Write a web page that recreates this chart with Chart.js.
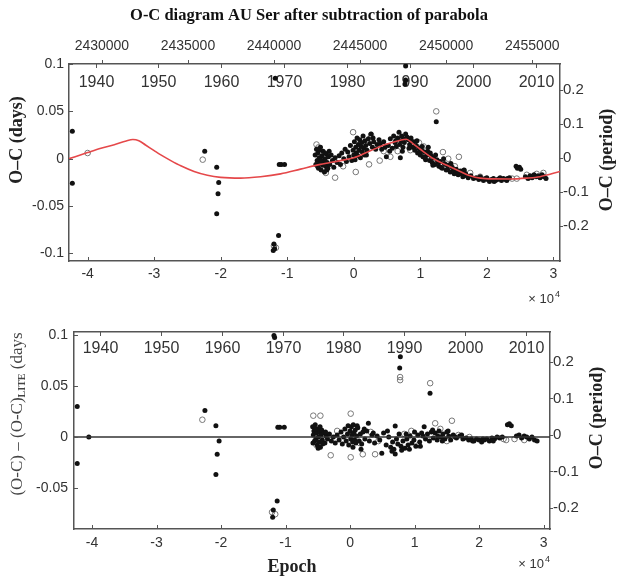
<!DOCTYPE html>
<html>
<head>
<meta charset="utf-8">
<script src="https://cdn.jsdelivr.net/npm/chart.js@4.4.1/dist/chart.umd.min.js"></script>
<style>
    html, body { margin: 0; padding: 0; background: #fff; }
    #wrap { position: relative; width: 618px; height: 578px; overflow: hidden; }
    canvas { position: absolute; left: 0; }
    #topChart { top: 0; }
    #bottomChart { top: 300px; }
</style>
</head>
<body>
<div id="wrap">
    <canvas id="topChart" width="618" height="310"></canvas>
    <canvas id="bottomChart" width="618" height="278"></canvas>
</div>
<script>
// Axis ranges and tick values
const epochRange = [-42800, 31000];
const epochTicks = [-40000, -30000, -20000, -10000, 0, 10000, 20000, 30000];
const jdTicks = [2430000, 2435000, 2440000, 2445000, 2450000, 2455000];
const yearTicks = [1940, 1950, 1960, 1970, 1980, 1990, 2000, 2010];
const topDaysRange = [-0.108, 0.1];
const topDaysTicks = [-0.1, -0.05, 0, 0.05, 0.1];
const topPeriodRange = [-0.302, 0.277];
const bottomDaysRange = [-0.0906, 0.1034];
const bottomDaysTicks = [-0.05, 0, 0.05, 0.1];
const bottomPeriodRange = [-0.2575, 0.282];
const periodTicks = [-0.2, -0.1, 0, 0.1, 0.2];

// ephemeris used for the JD / year axes
const T0 = 2444633;
const P = 0.38652;

// LITE fit (red curve), [epoch, days]
const topLite = [
    [-42800, 0.000], [-40000, 0.0065], [-38000, 0.011], [-36000, 0.0148], [-34200, 0.0188],
    [-33200, 0.0203], [-32300, 0.019], [-31300, 0.0145], [-30000, 0.0085], [-29000, 0.004],
    [-27500, -0.002], [-26000, -0.0075], [-24000, -0.0135], [-22000, -0.0175], [-20000, -0.0197],
    [-17000, -0.0205], [-14000, -0.019], [-11000, -0.016], [-8000, -0.011], [-5000, -0.006],
    [-2000, -0.002], [0, 0.001], [2500, 0.0085], [5000, 0.0155], [7000, 0.0195],
    [7900, 0.0205], [8800, 0.0165], [10000, 0.010], [12000, 0.000], [14000, -0.007],
    [16000, -0.0135], [17500, -0.018], [19000, -0.0205], [21000, -0.0213], [23500, -0.0214],
    [26000, -0.0205], [28000, -0.019], [31000, -0.0135]
];

// O-C after parabola, filled dots (primary minima)
const topDots = [
    [-42300, 0.029], [-42300, -0.026], [-22400, 0.008], [-20600, -0.009], [-20300, -0.025],
    [-20400, -0.037], [-20600, -0.058], [-11200, -0.006], [-10900, -0.006], [-10400, -0.006],
    [-11300, -0.081], [-12000, -0.090], [-11900, -0.095], [-12100, -0.097], [-11800, 0.085],
    [7800, 0.098], [7800, 0.083], [7700, 0.079], [12400, 0.039],
    [-5800, 0.004], [-5700, -0.006], [-5600, 0.010], [-5500, -0.002], [-5400, 0.006],
    [-5300, -0.010], [-5200, 0.001], [-5100, -0.005], [-5000, 0.012], [-4900, -0.012],
    [-4800, 0.003], [-4700, -0.007], [-4600, 0.008], [-4500, -0.003], [-4400, -0.014],
    [-4300, 0.000], [-4200, -0.008], [-4100, 0.005], [-4000, -0.004], [-3900, -0.010],
    [-3800, 0.002], [-3600, -0.006], [-3400, 0.004], [-3200, -0.002], [-3000, -0.009],
    [-2800, 0.001], [-2500, -0.004], [-2200, 0.003], [-2000, -0.006], [-1800, 0.006],
    [-1500, 0.000], [-1300, 0.010], [-1100, -0.003], [-900, 0.007], [-700, 0.002],
    [-500, 0.014], [-300, -0.002], [-100, 0.009], [0, 0.004], [100, 0.018],
    [200, -0.001], [300, 0.012], [400, 0.006], [500, 0.022], [600, 0.003],
    [700, 0.015], [800, 0.009], [900, 0.020], [1000, 0.001], [1100, 0.013],
    [1200, 0.017], [1300, 0.007], [1400, 0.024], [1500, 0.011], [1600, 0.004],
    [1700, 0.019], [1800, 0.014], [2000, 0.009], [2200, 0.021], [2400, 0.016],
    [2600, 0.026], [2800, 0.012], [3000, 0.018], [3500, 0.015], [3800, 0.020],
    [4200, 0.010], [4500, 0.018], [4900, 0.002], [5200, 0.014], [5500, 0.021],
    [5800, 0.011], [6000, 0.024], [6200, 0.017], [6400, 0.013], [6600, 0.022],
    [6800, 0.028], [6900, 0.015], [7000, 0.001], [7100, 0.019], [7200, 0.024],
    [7400, 0.012], [7500, 0.021], [7600, 0.017], [7800, 0.026], [8000, 0.023],
    [8200, 0.020], [8400, 0.015], [8600, 0.022], [8800, 0.012], [9000, 0.018],
    [9200, 0.009], [9400, 0.014], [9600, 0.006], [9800, 0.011], [10000, 0.004],
    [10200, 0.009], [10400, 0.002], [10600, 0.007], [10800, -0.001], [11000, 0.004],
    [11200, 0.012], [11400, -0.002], [11600, 0.003], [11800, -0.004], [12000, 0.001],
    [12200, -0.006], [12500, -0.001], [12800, -0.008], [13000, -0.003], [13300, -0.010],
    [13600, -0.005], [13900, -0.012], [14200, -0.007], [14500, -0.014], [14800, -0.009],
    [15100, -0.016], [15400, -0.011], [15700, -0.017], [16000, -0.013], [16400, -0.019],
    [16800, -0.016], [17200, -0.020], [17600, -0.018], [18000, -0.021], [18400, -0.020],
    [18800, -0.022], [19200, -0.021], [19500, -0.023], [19800, -0.021], [20100, -0.022],
    [20400, -0.024], [20700, -0.022], [21000, -0.021], [21300, -0.023], [21600, -0.022],
    [21900, -0.021], [22200, -0.023], [22500, -0.021], [22800, -0.022], [23100, -0.021],
    [23400, -0.020], [24400, -0.008], [24600, -0.010], [24900, -0.009], [25100, -0.011],
    [25800, -0.019], [26200, -0.021], [26500, -0.018], [26800, -0.020], [27100, -0.017],
    [27400, -0.019], [27700, -0.018], [28000, -0.020], [28300, -0.017], [28600, -0.019],
    [28900, -0.021],
    [8300, 0.011], [8700, 0.018], [9100, 0.013], [9500, 0.019], [9900, 0.007],
    [10300, 0.013], [10700, 0.001], [11100, 0.008], [11500, 0.006], [11900, -0.007],
    [12300, 0.004], [12700, -0.004], [13100, -0.009], [13500, 0.000], [13800, -0.006],
    [14100, -0.011], [14600, -0.005], [15000, -0.012], [15600, -0.014], [16200, -0.016],
    [16600, -0.012], [17000, -0.018], [-4950, -0.001], [-4350, 0.006], [-4050, -0.012],
    [-3700, 0.008], [-5150, 0.009], [-5450, -0.008], [1900, 0.004], [2900, 0.022],
    [3300, 0.010], [4000, 0.016], [4700, 0.012], [5400, 0.008], [6300, 0.019],
    [7300, 0.008], [19000, -0.019], [20000, -0.020], [21100, -0.024], [22000, -0.020],
    [23000, -0.023]
];

// O-C after parabola, open circles (secondary minima)
const topCircles = [
    [-40000, 0.006], [-22700, -0.001], [-12000, -0.092], [-11700, -0.094],
    [-5600, 0.015], [-5300, 0.012], [-4700, -0.011], [-4200, -0.015], [-2800, -0.020],
    [-1600, -0.008], [-100, 0.028], [300, -0.014], [1000, 0.009], [2300, -0.006],
    [2600, 0.025], [3900, -0.002], [4500, 0.008], [5500, 0.002], [6600, 0.008],
    [8500, 0.009], [9800, 0.017], [10500, 0.013], [11500, 0.001], [12400, 0.050],
    [13400, 0.007], [14200, 0.000], [15200, -0.008], [15800, 0.002], [16500, -0.013],
    [17500, -0.015], [19000, -0.019], [23800, -0.021], [24500, -0.021], [26000, -0.017],
    [27500, -0.016], [28500, -0.015]
];

// residuals after LITE, filled dots
const bottomDots = [
    [-42300, 0.030], [-40500, 0.000], [-42300, -0.026], [-22500, 0.026], [-20800, 0.011],
    [-20300, -0.004], [-20600, -0.017], [-20800, -0.037], [-11200, 0.0095], [-10900, 0.0095],
    [-10200, 0.0095], [-11300, -0.063], [-11900, -0.072], [-12000, -0.079], [-11800, 0.100],
    [-11700, 0.098], [7800, 0.079], [7700, 0.068], [12400, 0.043],
    [-5800, 0.010], [-5700, 0.002], [-5600, 0.006], [-5500, -0.004], [-5400, 0.012],
    [-5300, -0.002], [-5200, 0.004], [-5100, -0.008], [-5000, 0.008], [-4900, 0.000],
    [-4800, -0.005], [-4700, 0.005], [-4600, -0.010], [-4500, 0.002], [-4400, 0.007],
    [-4300, -0.003], [-4100, 0.004], [-3900, -0.006], [-3700, 0.001], [-3500, -0.002],
    [-3200, 0.003], [-2900, -0.004], [-2600, 0.000], [-2300, -0.006], [-2000, 0.002],
    [-1700, -0.003], [-1400, 0.005], [-1200, -0.007], [-1000, 0.000], [-800, 0.008],
    [-600, -0.004], [-400, 0.003], [-200, -0.008], [0, 0.006], [100, -0.002],
    [200, 0.010], [300, 0.002], [400, -0.005], [500, 0.012], [600, 0.004],
    [700, -0.003], [800, 0.007], [900, -0.006], [1000, 0.001], [1200, 0.009],
    [1400, -0.004], [1600, 0.003], [1800, -0.007], [2000, 0.005], [2300, -0.002],
    [2600, 0.006], [2840, 0.0135], [3000, -0.004], [3400, 0.002], [3800, -0.006],
    [4200, 0.001], [4600, -0.003], [4920, -0.016], [5200, 0.004], [5600, -0.008],
    [6000, 0.000], [6300, -0.010], [6600, -0.005], [6800, -0.012], [7000, 0.0108],
    [7000, -0.0167], [7200, -0.002], [7400, -0.007], [7600, 0.003], [7900, -0.009],
    [8200, -0.004], [8500, -0.011], [8800, -0.002], [9000, -0.008], [9300, 0.001],
    [9600, -0.006], [9900, -0.003], [10200, -0.009], [10500, 0.002], [10800, -0.005],
    [11100, 0.004], [11490, 0.010], [11700, -0.002], [12000, 0.003], [12300, -0.004],
    [12600, 0.005], [12900, -0.001], [13200, 0.004], [13500, -0.003], [13800, 0.006],
    [14100, 0.000], [14400, 0.003], [14700, -0.002], [15000, 0.005], [15300, 0.001],
    [15600, -0.003], [16000, 0.002], [16500, -0.001], [17000, 0.001], [17500, -0.002],
    [18000, -0.001], [18400, -0.003], [18800, -0.002], [19200, -0.004], [19600, -0.002],
    [20000, -0.003], [20400, -0.005], [20800, -0.003], [21200, -0.002], [21600, -0.004],
    [22000, -0.001], [22400, -0.002], [22800, 0.000], [23200, -0.001], [23600, 0.000],
    [24400, 0.012], [24700, 0.013], [25000, 0.011], [25800, 0.001], [26200, 0.002],
    [26600, -0.001], [27000, 0.001], [27400, 0.000], [27800, -0.002], [28200, 0.000],
    [28600, -0.003], [29000, -0.004],
    [-5750, -0.006], [-5350, 0.008], [-4950, -0.011], [-4650, 0.010], [-4250, -0.007],
    [-3800, 0.005], [-300, 0.011], [450, -0.010], [1100, 0.011], [1700, -0.012],
    [2200, 0.008], [3600, 0.004], [5800, 0.006], [6500, -0.014], [8000, -0.013],
    [8700, 0.003], [9200, -0.012], [10000, 0.005], [10900, -0.009], [11300, 0.001],
    [12800, 0.007], [13600, 0.001], [14300, -0.004], [15200, 0.006], [16300, 0.000],
    [17300, 0.002], [19000, -0.004], [20600, -0.002], [22200, -0.004]
];

// residuals after LITE, open circles
const bottomCircles = [
    [-22900, 0.017], [-12100, -0.074], [-11600, -0.076], [-5700, 0.021], [-4600, 0.021],
    [-5200, -0.008], [-3000, -0.018], [-2000, 0.006], [100, 0.023], [100, -0.020],
    [600, 0.008], [1970, -0.017], [3880, -0.017], [1500, -0.006], [3200, 0.005],
    [4400, -0.004], [7760, 0.059], [7760, 0.056], [8400, 0.003], [9500, 0.006],
    [10600, -0.008], [12420, 0.053], [13200, 0.0135], [14000, 0.008], [15000, -0.004],
    [15790, 0.016], [16800, 0.002], [18500, 0.000], [23800, -0.002], [24200, -0.003],
    [25500, -0.002], [27000, -0.003]
];

const frameColor = '#555';
const textColor = '#333';
const sansFont = '"Liberation Sans", Arial, sans-serif';
const serifFont = '"Liberation Serif", "Times New Roman", serif';

const toPoints = list => list.map(([x, y]) => ({ x: x, y: y }));
const fixedTicks = values => scale => { scale.ticks = values.map(v => ({ value: v })); };

// Draws the inside ticks, year labels, axis titles and the x10^4 note
const panelDecor = {
    id: 'panelDecor',
    beforeDatasetsDraw(chart, args, opts) {
        const { ctx, chartArea: area, scales } = chart;
        ctx.save();
        ctx.strokeStyle = frameColor;
        ctx.lineWidth = 1;
        ctx.fillStyle = textColor;
        ctx.font = '16px ' + sansFont;
        ctx.textAlign = 'center';
        ctx.textBaseline = 'middle';
        yearTicks.forEach(yr => {
            const jd = 2451544.5 + (yr - 2000) * 365.25;
            const px = Math.round(scales.xTop.getPixelForValue(jd)) + 0.5;
            ctx.beginPath();
            ctx.moveTo(px, area.top);
            ctx.lineTo(px, area.top + 4);
            ctx.stroke();
            ctx.fillText(String(yr), px, area.top + opts.yearOffset);
        });
        ctx.restore();
    },
    afterDraw(chart, args, opts) {
        const { ctx, chartArea: area, scales } = chart;
        const line = (x1, y1, x2, y2) => {
            ctx.beginPath();
            ctx.moveTo(x1, y1);
            ctx.lineTo(x2, y2);
            ctx.stroke();
        };
        ctx.save();
        ctx.strokeStyle = frameColor;
        ctx.lineWidth = 1;

        scales.x.ticks.forEach(t => {
            const px = Math.round(scales.x.getPixelForValue(t.value)) + 0.5;
            line(px, area.bottom, px, area.bottom - 4);
        });
        scales.y.ticks.forEach(t => {
            const py = Math.round(scales.y.getPixelForValue(t.value)) + 0.5;
            line(area.left, py, area.left + 4, py);
        });
        scales.y2.ticks.forEach(t => {
            const py = Math.round(scales.y2.getPixelForValue(t.value)) + 0.5;
            line(area.right, py, area.right + 3, py);
        });
        if (opts.jdTicks) {
            scales.xTop.ticks.forEach(t => {
                const px = Math.round(scales.xTop.getPixelForValue(t.value)) + 0.5;
                line(px, area.top, px, area.top - 4);
            });
        }

        // x 10^4
        ctx.fillStyle = textColor;
        ctx.textBaseline = 'alphabetic';
        ctx.textAlign = 'right';
        ctx.font = '9px ' + sansFont;
        const expW = ctx.measureText('4').width;
        ctx.fillText('4', area.right, area.bottom + opts.expY - 6);
        ctx.font = '13px ' + sansFont;
        ctx.fillText('\u00d7 10', area.right - expW - 1, area.bottom + opts.expY);

        // left title (pieces so that LITE can be a subscript)
        ctx.save();
        ctx.translate(opts.leftTitle.x, opts.leftTitle.y);
        ctx.rotate(-Math.PI / 2);
        ctx.textAlign = 'left';
        ctx.textBaseline = 'middle';
        ctx.fillStyle = opts.leftTitle.color || '#222';
        const pieces = opts.leftTitle.pieces;
        let total = 0;
        pieces.forEach(p => {
            ctx.font = p.font;
            total += ctx.measureText(p.text).width;
        });
        let cx = -total / 2;
        pieces.forEach(p => {
            ctx.font = p.font;
            ctx.fillText(p.text, cx, p.dy || 0);
            cx += ctx.measureText(p.text).width;
        });
        ctx.restore();

        // right title, reads bottom to top
        ctx.save();
        ctx.fillStyle = '#222';
        ctx.translate(opts.rightTitle.x, opts.rightTitle.y);
        ctx.rotate(-Math.PI / 2);
        ctx.textAlign = 'center';
        ctx.textBaseline = 'middle';
        ctx.font = 'bold 18px ' + serifFont;
        ctx.fillText(opts.rightTitle.text, 0, 0);
        ctx.restore();

        if (opts.bottomTitle) {
            ctx.fillStyle = '#222';
            ctx.textAlign = 'center';
            ctx.textBaseline = 'middle';
            ctx.font = 'bold 18px ' + serifFont;
            ctx.fillText(opts.bottomTitle.text, opts.bottomTitle.x, opts.bottomTitle.y);
        }
        ctx.restore();
    }
};

function buildChart(canvasId, cfg) {
    const ctx = document.getElementById(canvasId);
    const tickFont = { family: sansFont, size: 14 };
    return new Chart(ctx, {
        type: 'scatter',
        data: { datasets: cfg.datasets },
        options: {
            responsive: false,
            animation: false,
            events: [],
            layout: { padding: 0 },
            plugins: {
                legend: { display: false },
                tooltip: { enabled: false },
                title: cfg.title ? {
                    display: true,
                    text: cfg.title,
                    color: '#111',
                    font: { family: serifFont, size: 16.5, weight: 'bold' },
                    padding: { top: 6, bottom: 6 }
                } : { display: false },
                panelDecor: cfg.decor
            },
            scales: {
                x: {
                    type: 'linear',
                    position: 'bottom',
                    min: epochRange[0],
                    max: epochRange[1],
                    afterBuildTicks: fixedTicks(epochTicks),
                    afterFit: s => { s.height = cfg.bottomHeight; },
                    ticks: {
                        font: tickFont, color: textColor, padding: cfg.xPad,
                        maxRotation: 0, autoSkip: false,
                        callback: v => String(v / 10000)
                    },
                    grid: { display: false, drawTicks: false },
                    border: { display: true, color: frameColor, width: 1.5 }
                },
                xTop: {
                    type: 'linear',
                    position: 'top',
                    min: T0 + P * epochRange[0],
                    max: T0 + P * epochRange[1],
                    afterBuildTicks: fixedTicks(jdTicks),
                    afterFit: s => { s.height = cfg.topHeight; },
                    ticks: {
                        display: cfg.showJd, font: tickFont, color: textColor, padding: 9,
                        maxRotation: 0, autoSkip: false,
                        callback: v => String(v)
                    },
                    grid: { display: false, drawTicks: false },
                    border: { display: true, color: frameColor, width: 1.5 }
                },
                y: {
                    type: 'linear',
                    position: 'left',
                    min: cfg.daysRange[0],
                    max: cfg.daysRange[1],
                    afterBuildTicks: fixedTicks(cfg.daysTicks),
                    afterFit: s => { s.width = cfg.leftWidth; },
                    ticks: {
                        font: tickFont, color: textColor, padding: cfg.yPad,
                        callback: v => String(v)
                    },
                    grid: { display: false, drawTicks: false },
                    border: { display: true, color: frameColor, width: 1.5 }
                },
                y2: {
                    type: 'linear',
                    position: 'right',
                    min: cfg.periodRange[0],
                    max: cfg.periodRange[1],
                    afterBuildTicks: fixedTicks(periodTicks),
                    afterFit: s => { s.width = cfg.rightWidth; },
                    ticks: {
                        font: { family: sansFont, size: 15 }, color: textColor, padding: 3,
                        callback: v => String(v)
                    },
                    grid: { display: false, drawTicks: false },
                    border: { display: true, color: frameColor, width: 1.5 }
                }
            }
        },
        plugins: [panelDecor]
    });
}

const dotStyle = {
    pointRadius: 2.5,
    pointBackgroundColor: '#111',
    pointBorderWidth: 0
};
const circleStyle = {
    pointRadius: 2.8,
    pointBackgroundColor: 'rgba(255,255,255,0)',
    pointBorderColor: '#777',
    pointBorderWidth: 1
};

buildChart('topChart', {
    title: 'O-C diagram AU Ser after subtraction of parabola',
    datasets: [
        {
            type: 'line',
            data: toPoints(topLite),
            borderColor: '#e5484a',
            borderWidth: 1.6,
            pointRadius: 0,
            cubicInterpolationMode: 'monotone',
            fill: false
        },
        Object.assign({ data: toPoints(topDots) }, dotStyle),
        Object.assign({ data: toPoints(topCircles) }, circleStyle)
    ],
    daysRange: topDaysRange,
    daysTicks: topDaysTicks,
    periodRange: topPeriodRange,
    bottomHeight: 49,
    topHeight: 64 - 31.8,
    leftWidth: 69,
    rightWidth: 58,
    xPad: 5,
    yPad: 5,
    showJd: true,
    decor: {
        jdTicks: true,
        yearOffset: 19,
        expY: 42,
        leftTitle: {
            x: 17, y: 140,
            pieces: [{ text: 'O\u2013C (days)', font: 'bold 18px ' + serifFont }]
        },
        rightTitle: { x: 607, y: 160, text: 'O\u2013C (period)' }
    }
});

buildChart('bottomChart', {
    title: null,
    datasets: [
        {
            type: 'line',
            data: toPoints([[epochRange[0], 0], [epochRange[1], 0]]),
            borderColor: '#333',
            borderWidth: 1.5,
            pointRadius: 0,
            fill: false
        },
        Object.assign({ data: toPoints(bottomDots) }, dotStyle),
        Object.assign({ data: toPoints(bottomCircles) }, circleStyle)
    ],
    daysRange: bottomDaysRange,
    daysTicks: bottomDaysTicks,
    periodRange: bottomPeriodRange,
    bottomHeight: 49,
    topHeight: 32,
    leftWidth: 74,
    rightWidth: 68,
    xPad: 6,
    yPad: 6,
    showJd: false,
    decor: {
        jdTicks: false,
        yearOffset: 17,
        expY: 39,
        leftTitle: {
            x: 18, y: 114, color: '#444',
            pieces: [
                { text: '(O-C) \u2013 (O-C)', font: '17px ' + serifFont },
                { text: 'LITE', font: 'bold 10px ' + serifFont, dy: 4 },
                { text: ' (days', font: '17px ' + serifFont }
            ]
        },
        rightTitle: { x: 597, y: 118, text: 'O\u2013C (period)' },
        bottomTitle: { x: 292, y: 267, text: 'Epoch' }
    }
});
</script>
</body>
</html>
